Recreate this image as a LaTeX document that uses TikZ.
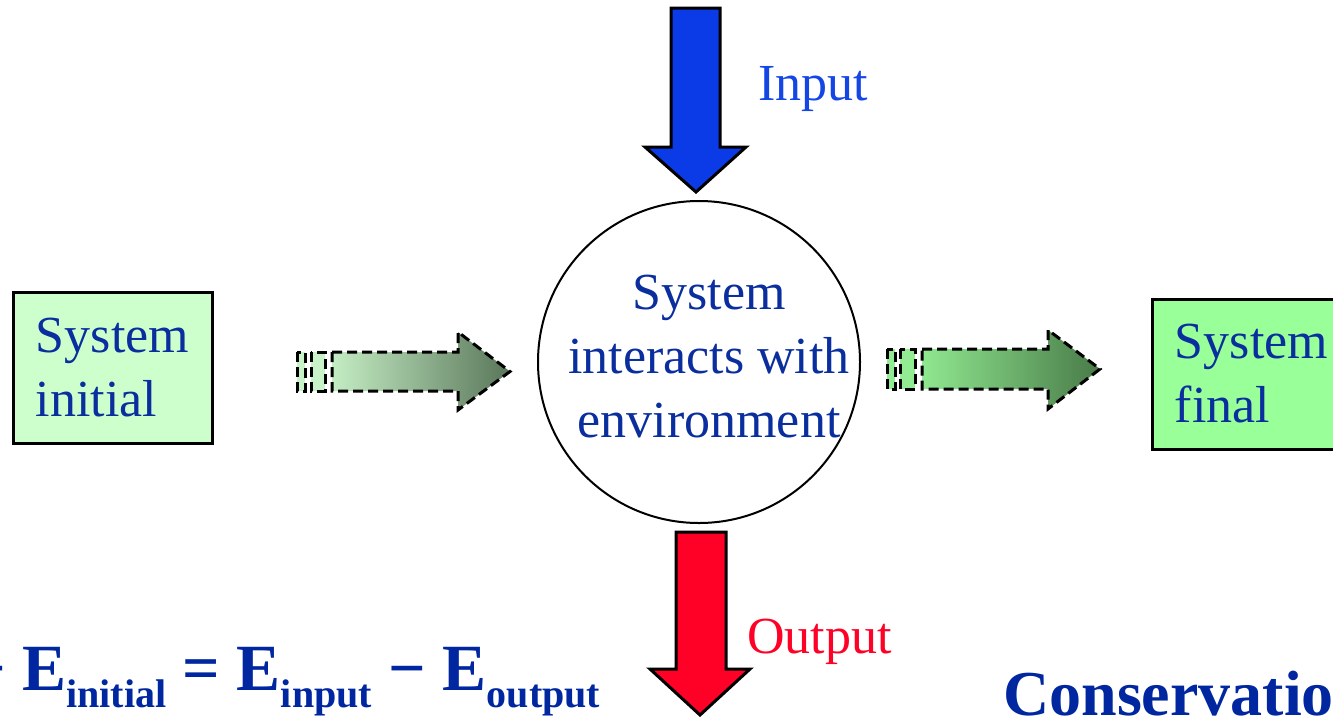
\documentclass[tikz,border=0pt]{standalone}
\usepackage{fontspec}
\setmainfont{Liberation Serif}
\definecolor{txtblue}{HTML}{0A2E9E}
\definecolor{inblue}{HTML}{0A3BE6}
\definecolor{inlabel}{HTML}{1446E6}
\definecolor{outred}{HTML}{FF0026}
\definecolor{initgreen}{HTML}{CCFFCC}
\definecolor{finalgreen}{HTML}{99FF99}
\definecolor{eqblue}{HTML}{0026A0}
\definecolor{stripeA}{HTML}{C8F2C8}
\definecolor{flowAleft}{HTML}{C4EDC4}
\definecolor{flowAright}{HTML}{5A765A}
\definecolor{stripeB}{HTML}{92EC92}
\definecolor{flowBleft}{HTML}{90E890}
\definecolor{flowBright}{HTML}{497A49}
\begin{document}
\begin{tikzpicture}[x=1pt,y=-1pt,
  txt/.style={text=txtblue, font=\fontsize{52}{64}\selectfont},
  statebox/.style={draw=black, line width=3pt, minimum width=199pt, inner xsep=0pt, inner ysep=0pt, align=left, txt},
  blockarrow/.style={draw=black, line width=3pt, line join=miter},
  flowarrow/.style={draw=black, line width=3pt, dash pattern=on 10pt off 5pt},
  label/.style={anchor=base west, inner sep=0pt, font=\fontsize{52}{64}\selectfont},
  eqtext/.style={anchor=base west, inner sep=0pt, text=eqblue, font=\bfseries\fontsize{66}{66}\selectfont},
]
\useasboundingbox (0,0) rectangle (1333,716);

% state boxes
\node[statebox, fill=initgreen, minimum height=151pt] (init) at (112.5,367.5) {System\\initial};
\node[statebox, fill=finalgreen, minimum height=150pt] (final) at (1251.5,374) {System\\final};

% central system circle
\node[circle, draw=black, line width=2pt, minimum size=322pt, inner sep=0pt] (sys) at (699,362) {};
\node[txt, align=center, inner sep=0pt] (systext) at (709,356.5) {System\\interacts with\\environment};

% input arrow
\draw[blockarrow, fill=inblue] (671,8) -- (720,8) -- (720,147) -- (746,147) -- (696,192) -- (645,147) -- (671,147) -- cycle;
\node[label, text=inlabel] (inlab) at (758,100) {Input};

% output arrow
\draw[blockarrow, fill=outred] (676,532) -- (726,532) -- (726,669) -- (750,669) -- (700,715) -- (650,669) -- (676,669) -- cycle;
\node[label, text=outred] (outlab) at (747,653) {Output};

% flow arrow: initial -> system
\draw[flowarrow, fill=stripeA] (297,352) rectangle (305,391);
\draw[flowarrow, fill=stripeA] (311,352) rectangle (325,391);
\draw[flowarrow, left color=flowAleft, right color=flowAright] (332,352) -- (458,352) -- (458,332) -- (510,371.5) -- (458,410) -- (458,391) -- (332,391) -- cycle;

% flow arrow: system -> final
\draw[flowarrow, fill=stripeB] (887,349) rectangle (895,389);
\draw[flowarrow, fill=stripeB] (900,349) rectangle (915,389);
\draw[flowarrow, left color=flowBleft, right color=flowBright] (922,349) -- (1048,349) -- (1048,330) -- (1100,369) -- (1048,409) -- (1048,389) -- (922,389) -- cycle;

% equation
\node[eqtext] (eq) at (-32,690) {\char"2212{} E\raisebox{-17pt}{\fontsize{40}{40}\selectfont initial} = E\raisebox{-17pt}{\fontsize{40}{40}\selectfont input} \char"2212{} E\raisebox{-17pt}{\fontsize{40}{40}\selectfont output}};

% title fragment
\node[eqtext, font=\bfseries\fontsize{64}{64}\selectfont] (cons) at (1003,715) {Conservatio};
\end{tikzpicture}
\end{document}
